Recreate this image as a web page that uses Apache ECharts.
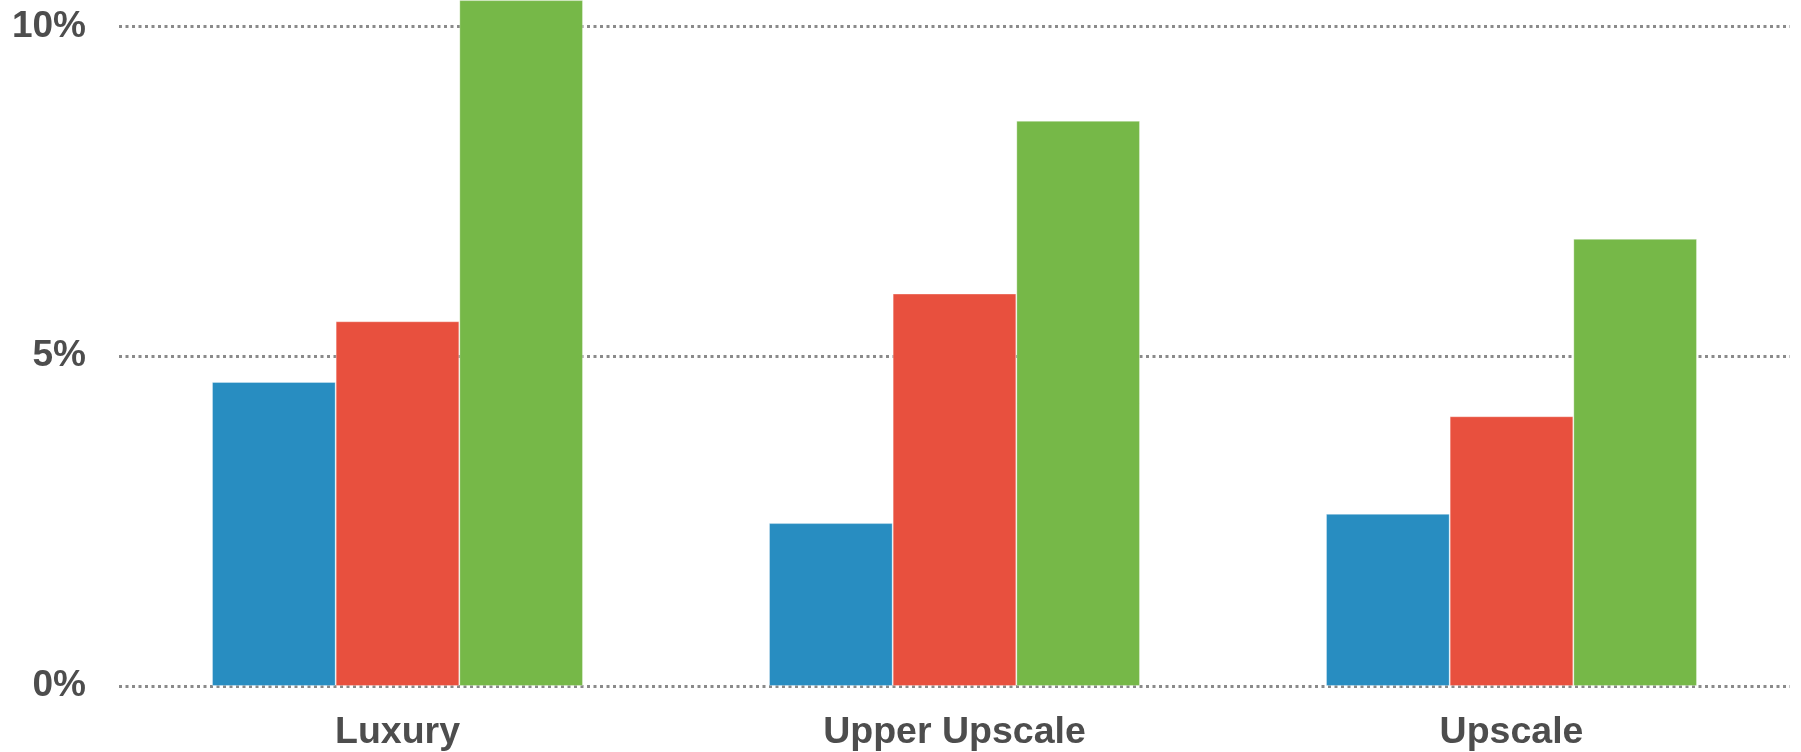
<!DOCTYPE html>
<html>
<head>
<meta charset="utf-8">
<script src="https://cdn.jsdelivr.net/npm/echarts@6/dist/echarts.min.js"></script>
<style>
  html, body { margin: 0; padding: 0; background: #ffffff; }
  #chart { width: 1801px; height: 752px; }
</style>
</head>
<body>
<div id="chart"></div>
<script>
// Hotel segments on the category axis
const categories = ['Luxury', 'Upper Upscale', 'Upscale'];

// Percentage values per segment, one array per series
const seriesBlue = [4.61, 2.47, 2.61];
const seriesRed = [5.53, 5.95, 4.09];
const seriesGreen = [10.4, 8.57, 6.78];

// Value axis ticks (percent)
const yMin = 0;
const yMax = 10;
const yStep = 5;

const colors = ['#288dc1', '#e8503e', '#76b848'];
const labelColor = '#4d4d4d';
const labelFont = 'Liberation Sans, Arial, Helvetica, sans-serif';

const chart = echarts.init(document.getElementById('chart'), null, { renderer: 'canvas' });

function barSeries(data, color) {
  return {
    type: 'bar',
    data: data,
    barGap: '0%',
    barCategoryGap: '33.4%',
    clip: false,
    itemStyle: {
      color: color,
      borderColor: 'rgba(255,255,255,0.3)',
      borderWidth: 1
    }
  };
}

chart.setOption({
  animation: false,
  backgroundColor: '#ffffff',
  grid: { left: 119, right: 11, top: 26.5, bottom: 66, containLabel: false },
  xAxis: {
    type: 'category',
    data: categories,
    axisLine: { show: false },
    axisTick: { show: false },
    axisLabel: {
      margin: 28,
      color: labelColor,
      fontFamily: labelFont,
      fontWeight: 'bold',
      fontSize: 37.5
    }
  },
  yAxis: {
    type: 'value',
    min: yMin,
    max: yMax,
    interval: yStep,
    axisLine: { show: false },
    axisTick: { show: false },
    axisLabel: {
      margin: 33,
      padding: [5, 0, 0, 0],
      color: labelColor,
      fontFamily: labelFont,
      fontWeight: 'bold',
      fontSize: 37,
      formatter: '{value}%'
    },
    splitLine: {
      show: true,
      lineStyle: { color: '#8a8a8a', width: 3, type: [3, 3.5] }
    }
  },
  series: [
    barSeries(seriesBlue, colors[0]),
    barSeries(seriesRed, colors[1]),
    barSeries(seriesGreen, colors[2])
  ]
});
</script>
</body>
</html>
